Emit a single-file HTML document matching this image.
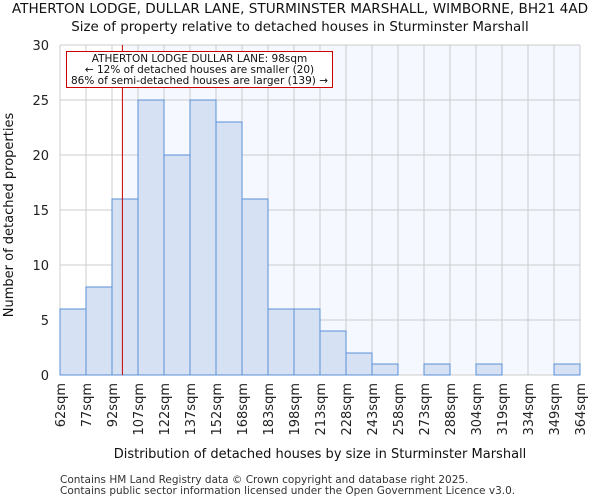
<!DOCTYPE html>
<html><head><meta charset="utf-8"><style>
body{margin:0;background:#fff;font-family:"DejaVu Sans","Liberation Sans",sans-serif}
</style></head><body>
<svg width="600" height="500" xmlns="http://www.w3.org/2000/svg" font-family="DejaVu Sans, Liberation Sans, sans-serif">
</svg>
<script>
const categories=["62sqm","77sqm","92sqm","107sqm","122sqm","137sqm","152sqm","168sqm","183sqm","198sqm","213sqm","228sqm","243sqm","258sqm","273sqm","288sqm","304sqm","319sqm","334sqm","349sqm","364sqm"];
const counts=[6,8,16,25,20,25,23,16,6,6,4,2,1,0,1,0,1,0,0,1];
const yTicks=[0,5,10,15,20,25,30];
const markerValue=98;
const binStarts=[62,77,92,107,122,137,152,168,183,198,213,228,243,258,273,288,304,319,334,349,364];
const L=60,R=580,T=45,B=375,yMax=30;
const n=counts.length, bw=(R-L)/n;
const x=i=>L+i*bw;
const y=v=>B-(v/yMax)*(B-T);
const NS="http://www.w3.org/2000/svg";
const svg=document.querySelector('svg');
function el(t,a,txt){const e=document.createElementNS(NS,t);for(const k in a)e.setAttribute(k,a[k]);if(txt!==undefined)e.textContent=txt;svg.appendChild(e);return e;}
let mi=0;for(let i=0;i<binStarts.length-1;i++){if(markerValue>=binStarts[i]&&markerValue<binStarts[i+1])mi=i;}
const mx=x(mi)+(markerValue-binStarts[mi])/(binStarts[mi+1]-binStarts[mi])*bw;
const bgL=el('rect',{x:L,y:T,width:mx-L,height:B-T,fill:'#ffffff'});


const bgR=el('rect',{x:mx,y:T,width:R-mx,height:B-T,fill:'#f5f8fe'});


for(let i=0;i<=n;i++){const g=el('line',{x1:x(i),x2:x(i),y1:T,y2:B,stroke:'#cccccc','stroke-width':1});

}
yTicks.forEach(v=>{const g=el('line',{x1:L,x2:R,y1:y(v),y2:y(v),stroke:'#cccccc','stroke-width':1});


const t=el('text',{x:L-11,y:y(v)+5,'text-anchor':'end','font-size':13,fill:'#222'},v);

});
counts.forEach((c,i)=>{if(c<=0)return;const r=el('rect',{x:x(i),y:y(c),width:bw,height:B-y(c),fill:'#d6e1f4',stroke:'#5b8fd6','stroke-width':1});

});
categories.forEach((c,i)=>{const t=el('text',{transform:`translate(${x(i)+5},${B+8}) rotate(-90)`,'text-anchor':'end','font-size':13,fill:'#222'},c);

});
const ml=el('line',{x1:mx,x2:mx,y1:T,y2:B,stroke:'#cc0000','stroke-width':1});


const box=el('rect',{x:66.5,y:51.5,width:266,height:36,fill:'#fff',stroke:'#cc0000','stroke-width':1});


["ATHERTON LODGE DULLAR LANE: 98sqm","← 12% of detached houses are smaller (20)","86% of semi-detached houses are larger (139) →"].forEach((s,i)=>{const t=el('text',{x:199.5,y:62+i*11,'text-anchor':'middle','font-size':10.5,fill:'#111'},s);

});
const t1=el('text',{x:300,y:13,'text-anchor':'middle','font-size':13.6,fill:'#111'},"ATHERTON LODGE, DULLAR LANE, STURMINSTER MARSHALL, WIMBORNE, BH21 4AD");


const t2=el('text',{x:300,y:31,'text-anchor':'middle','font-size':13.4,fill:'#111'},"Size of property relative to detached houses in Sturminster Marshall");


const xt=el('text',{x:320,y:458,'text-anchor':'middle','font-size':13,fill:'#111'},"Distribution of detached houses by size in Sturminster Marshall");


const yt=el('text',{transform:'translate(13,215) rotate(-90)','text-anchor':'middle','font-size':13,fill:'#111'},"Number of detached properties");


const f1=el('text',{x:60,y:483,'font-size':10.5,fill:'#333'},"Contains HM Land Registry data © Crown copyright and database right 2025.");


const f2=el('text',{x:60,y:494,'font-size':10.5,fill:'#333'},"Contains public sector information licensed under the Open Government Licence v3.0.");


</script>
</body></html>
